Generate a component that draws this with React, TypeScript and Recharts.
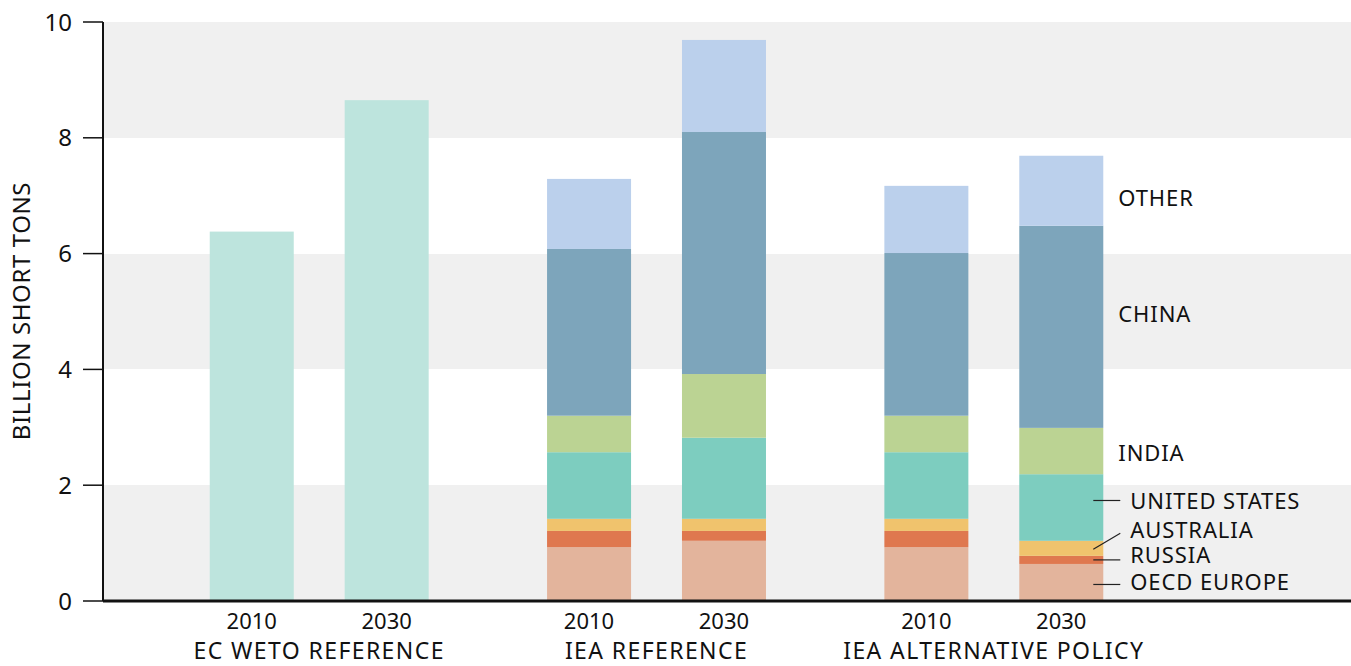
import { BarChart, Bar, XAxis, YAxis, CartesianGrid } from 'recharts';

// six bars, two per scenario
const barYears = ['2010', '2030', '2010', '2030', '2010', '2030'];
const scenarios = ['EC WETO REFERENCE', 'IEA REFERENCE', 'IEA ALTERNATIVE POLICY'];

// billion short tons
const ecTotal = [6.38, 8.65, null, null, null, null];
const oecdEurope = [null, null, 0.93, 1.04, 0.93, 0.64];
const russia = [null, null, 0.28, 0.17, 0.28, 0.14];
const australia = [null, null, 0.21, 0.21, 0.21, 0.26];
const unitedStates = [null, null, 1.15, 1.4, 1.15, 1.15];
const india = [null, null, 0.63, 1.1, 0.63, 0.8];
const china = [null, null, 2.88, 4.18, 2.81, 3.49];
const other = [null, null, 1.21, 1.59, 1.16, 1.21];

const yTicks = [0, 2, 4, 6, 8, 10];

// build slots: bar, group label slot, bar, spacer, spacer ...
const rows: any[] = [];
scenarios.forEach((name, g) => {
  [0, 1].forEach((k) => {
    const i = g * 2 + k;
    rows.push({
      key: 'b' + i,
      year: barYears[i],
      group: '',
      ec: ecTotal[i],
      oecdEurope: oecdEurope[i],
      russia: russia[i],
      australia: australia[i],
      unitedStates: unitedStates[i],
      india: india[i],
      china: china[i],
      other: other[i],
    });
    if (k === 0) rows.push({ key: 'g' + g, year: '', group: name });
  });
  if (g < scenarios.length - 1) {
    rows.push({ key: 's' + g + 'a', year: '', group: '' });
    rows.push({ key: 's' + g + 'b', year: '', group: '' });
  }
});
const lastKey = rows[rows.length - 1].key;

const series = [
  { key: 'oecdEurope', name: 'OECD EUROPE', color: '#e3b49c' },
  { key: 'russia', name: 'RUSSIA', color: '#df784f' },
  { key: 'australia', name: 'AUSTRALIA', color: '#f0c36d' },
  { key: 'unitedStates', name: 'UNITED STATES', color: '#7dcdbf' },
  { key: 'india', name: 'INDIA', color: '#bbd393' },
  { key: 'china', name: 'CHINA', color: '#7da5bb' },
  { key: 'other', name: 'OTHER', color: '#bbd0ec' },
];

const font = '"Noto Sans", "Open Sans", sans-serif';
const BAR_W = 84;

// label placement for the right-hand annotations
const labelStyle: Record<string, { dy: number; lead?: [number, number] }> = {
  other: { dy: 8 },
  china: { dy: -13 },
  india: { dy: 2 },
  unitedStates: { dy: -6, lead: [-7, -7] },
  australia: { dy: -18, lead: [1, -15] },
  russia: { dy: -5, lead: [0, 0] },
  oecdEurope: { dy: 0, lead: [2, 2] },
};

const makeShape = (sKey: string, text: string | null) => (props: any) => {
  const { x, y, width, height, fill, payload } = props;
  const cx = Number(x) + Number(width) / 2;
  const left = cx - BAR_W / 2;
  const right = cx + BAR_W / 2;
  const h = Number(height);
  if (!h || isNaN(h)) return <g />;
  const rect = <rect x={left} y={y} width={BAR_W} height={h} fill={fill} />;
  if (!text || !payload || payload.key !== lastKey) return rect;
  const cfg = labelStyle[sKey];
  const cy = Number(y) + h / 2;
  return (
    <g>
      {rect}
      {cfg.lead && (
        <line x1={right - 10} y1={cy + cfg.lead[0]} x2={right + 17} y2={cy + cfg.lead[1]} stroke="#222" strokeWidth={1.2} />
      )}
      <text
        x={right + (cfg.lead ? 27 : 15)}
        y={cy + cfg.dy}
        dy="0.35em"
        fontSize={22}
        letterSpacing={0.9}
        fontFamily={font}
        fill="#111"
      >
        {text}
      </text>
    </g>
  );
};

const XTick = (props: any) => {
  const { x, y, payload } = props;
  const row = rows[payload.index];
  if (!row) return null;
  return (
    <g fontFamily={font} fill="#111">
      {row.year && (
        <text x={x} y={y + 12} dy="0.35em" textAnchor="middle" fontSize={22}>
          {row.year}
        </text>
      )}
      {row.group && (
        <text x={x} y={y + 42} dy="0.35em" textAnchor="middle" fontSize={23} letterSpacing={1.4}>
          {row.group}
        </text>
      )}
    </g>
  );
};

const YLabel = () => (
  <text
    x={22}
    y={311}
    transform="rotate(-90 22 311)"
    textAnchor="middle"
    dy="0.35em"
    fontSize={24}
    letterSpacing={0.6}
    fontFamily={font}
    fill="#111"
  >
    BILLION SHORT TONS
  </text>
);

export default function App() {
  return (
    <div style={{ position: 'absolute', left: 0, top: 0, background: '#fff' }}>
      <BarChart
        width={1351}
        height={666}
        data={rows}
        margin={{ top: 22, right: 0, left: 0, bottom: 0 }}
      >
        <CartesianGrid
          vertical={false}
          stroke="none"
          horizontalFill={['#f0f0f0', '#ffffff']}
          fillOpacity={1}
        />
        <XAxis
          dataKey="key"
          interval={0}
          height={65}
          tickLine={false}
          tick={<XTick />}
          axisLine={{ stroke: '#111', strokeWidth: 3 }}
          padding={{ left: 115, right: 256 }}
        />
        <YAxis
          width={103}
          domain={[0, 10]}
          ticks={yTicks}
          tickSize={20}
          tickMargin={11}
          axisLine={{ stroke: '#111', strokeWidth: 2 }}
          tickLine={{ stroke: '#111', strokeWidth: 1.5 }}
          tick={{ fontSize: 24, fontFamily: font, fill: '#111' }}
          label={<YLabel />}
        />
        {series.map((s) => (
          <Bar
            key={s.key}
            dataKey={s.key}
            stackId="a"
            fill={s.color}
            isAnimationActive={false}
            shape={makeShape(s.key, s.name)}
          />
        ))}
        <Bar dataKey="ec" stackId="a" fill="#bde4dd" isAnimationActive={false} shape={makeShape('ec', null)} />
      </BarChart>
    </div>
  );
}
